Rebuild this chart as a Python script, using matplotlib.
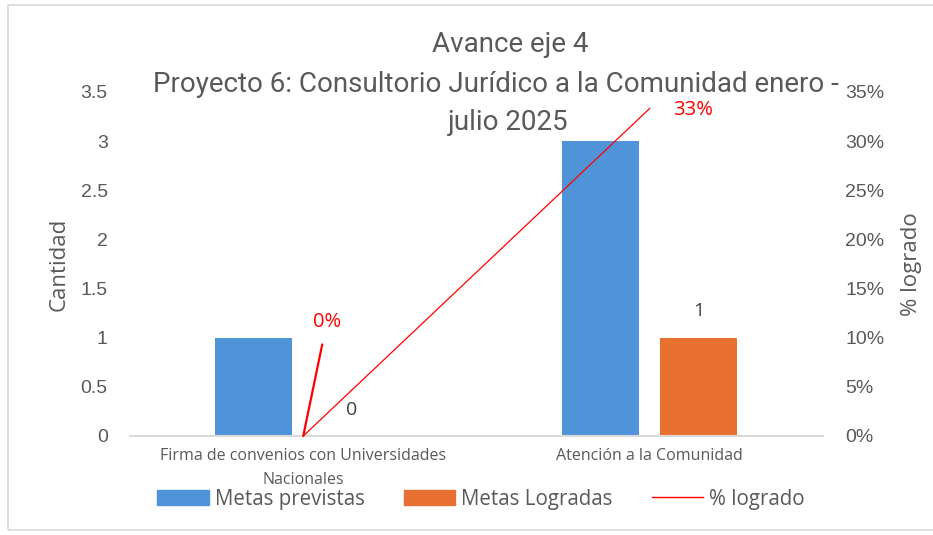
import matplotlib
matplotlib.use("Agg")
import matplotlib.pyplot as plt
from matplotlib import font_manager as fm
from matplotlib.patches import Rectangle
from matplotlib.lines import Line2D
import numpy as np

categories = ["Firma de convenios con Universidades\nNacionales", "Atención a la Comunidad"]
metas_previstas = [1, 3]
metas_logradas = [0, 1]
pct_logrado = [0.0, 0.3333]
left_ticks = [0, 0.5, 1, 1.5, 2, 2.5, 3, 3.5]
right_ticks = [0, 0.05, 0.10, 0.15, 0.20, 0.25, 0.30, 0.35]

names = {f.name for f in fm.fontManager.ttflist}
narrow = "Liberation Sans Narrow" if "Liberation Sans Narrow" in names else "Roboto"
tickfont = "Liberation Sans"
textfont = "Open Sans"

GRAY = "#595959"
BLUE = "#4f94d8"
ORANGE = "#e87131"
RED = "#ff0000"

fig = plt.figure(figsize=(9.33, 5.35), dpi=100)
fig.patches.append(Rectangle((8/933, 5/535), 1.2, 525/535, transform=fig.transFigure,
                             fill=False, edgecolor="#d9d9d9", lw=1.2))

ax = fig.add_axes([130/933, 1-436/535, 693/933, 344/535])
x = np.arange(len(categories))
w = 0.222
b1 = ax.bar(x - 0.143, metas_previstas, w, color=BLUE, label="Metas previstas")
b2 = ax.bar(x + 0.14, metas_logradas, w, color=ORANGE, label="Metas Logradas")
ax.set_xlim(-0.5, 1.5)
ax.set_ylim(0, 3.5)
ax.set_yticks(left_ticks)
ax.set_yticklabels([f"{t:g}" for t in left_ticks], fontfamily=tickfont, fontsize=14, color=GRAY)
ax.set_xticks(x)
ax.set_xticklabels(categories, fontfamily=textfont, fontsize=11.5, color=GRAY, linespacing=1.6)
ax.tick_params(axis="y", length=0, pad=16)
ax.tick_params(axis="x", length=0, pad=9)
for s in ["top", "right", "left"]:
    ax.spines[s].set_visible(False)
ax.spines["bottom"].set_color("#d9d9d9")
ax.spines["bottom"].set_linewidth(1.5)
ax.set_ylabel("Cantidad", fontfamily=textfont, fontsize=16, color=GRAY, labelpad=8)

for rect, v in zip(b2, metas_logradas):
    ax.annotate(f"{v:g}", (rect.get_x() + rect.get_width()/2, rect.get_height()),
                xytext=(0, 19), textcoords="offset points", ha="center", va="center",
                fontfamily=textfont, fontsize=14, color="#404040")

ax2 = ax.twinx()
ax2.set_ylim(0, 0.35)
ax2.set_yticks(right_ticks)
ax2.set_yticklabels([f"{round(t*100)}%" for t in right_ticks], fontfamily=tickfont, fontsize=14, color=GRAY)
ax2.tick_params(axis="y", length=0, pad=16)
for s in ["top", "right", "left", "bottom"]:
    ax2.spines[s].set_visible(False)
ax2.plot(x, pct_logrado, color=RED, lw=0.9, label="% logrado")
ax2.set_ylabel("% logrado", fontfamily=textfont, fontsize=16, color=GRAY, labelpad=12)

ax2.annotate(f"{round(pct_logrado[0]*100)}%", (x[0], pct_logrado[0]), xytext=(17, 82),
             textcoords="offset points", ha="center", va="center", fontfamily=textfont,
             fontsize=14.5, color=RED,
             arrowprops=dict(arrowstyle="-", color=RED, lw=1.6, shrinkA=7, shrinkB=0))
ax2.annotate(f"{round(pct_logrado[1]*100)}%", (x[1], pct_logrado[1]), xytext=(31, -1),
             textcoords="offset points", ha="center", va="center", fontfamily=textfont,
             fontsize=14.5, color=RED)

fig.text(510/933, 1-45/535, "Avance eje 4", ha="center", va="center",
         fontfamily=narrow, fontsize=20, color=GRAY)
fig.text(496/933, 1-85/535, "Proyecto 6: Consultorio Jurídico a la Comunidad enero -",
         ha="center", va="center", fontfamily=narrow, fontsize=20, color=GRAY)
fig.text(508/933, 1-122/535, "julio 2025", ha="center", va="center",
         fontfamily=narrow, fontsize=20, color=GRAY)

handles = [Rectangle((0, 0), 1, 1, color=BLUE), Rectangle((0, 0), 1, 1, color=ORANGE),
           Line2D([0], [0], color=RED, lw=1)]
labels = ["Metas previstas", "Metas Logradas", "% logrado"]
fig.legend(handles, labels, loc="center", bbox_to_anchor=(481/933, 1-499/535), ncol=3,
           frameon=False, prop={"family": textfont, "size": 14.8}, labelcolor=GRAY,
           handlelength=2.5, handleheight=0.7, handletextpad=0.3, columnspacing=1.9)

fig.savefig("out.png", dpi=100)
